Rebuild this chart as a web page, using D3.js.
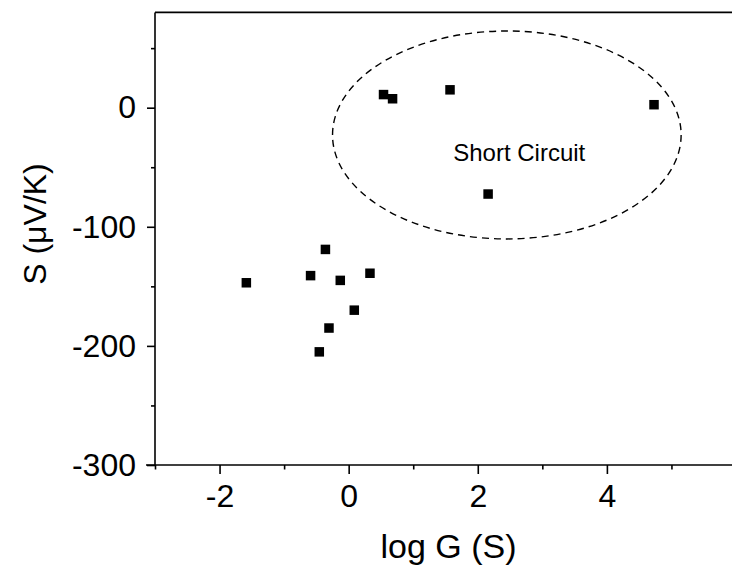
<!DOCTYPE html>
<html>
<head>
<meta charset="utf-8">
<script src="https://cdn.jsdelivr.net/npm/d3@7"></script>
<style>
  html, body { margin: 0; padding: 0; background: #fff; }
  svg { display: block; }
  text { font-family: "Liberation Sans", Arial, Helvetica, sans-serif; fill: #000; }
</style>
</head>
<body>
<svg id="chart" width="732" height="569"></svg>
<script>
// Thermopower S versus log conductance
const logG = [0.54, 0.68, 1.57, 4.73, 2.16, -0.36, -0.59, -1.585, -0.13, 0.33, 0.087, -0.305, -0.455];
const seebeck = [11, 7.5, 15, 2.5, -72.5, -119, -141, -147, -145, -139, -170, -185, -205];

const xMajorTicks = [-2, 0, 2, 4];
const xMinorTicks = [-3, -1, 1, 3, 5];
const yMajorTicks = [-300, -200, -100, 0];
const yMinorTicks = [-250, -150, -50, 50];

// Ellipse enclosing the short-circuit junctions (data units)
const shortCircuit = { cx: 2.45, cy: -22.9, rx: 2.70, ry: 87.3, label: "Short Circuit", lx: 1.62, ly: -44.5 };

const svg = d3.select("#chart");
const plotLeft = 155, plotRight = 736, plotTop = 12.4, plotBottom = 465;

const x = d3.scaleLinear().domain([-3, 6]).range([plotLeft, plotRight]);
const y = d3.scaleLinear().domain([-300, 80]).range([plotBottom, plotTop]);

const fmt = d => String(d);

// frame: top edge and far right edge
svg.append("path")
  .attr("d", `M${plotLeft},${plotTop}H${plotRight}V${plotBottom}`)
  .attr("fill", "none").attr("stroke", "#000").attr("stroke-width", 1.6);

// x axis
const gx = svg.append("g").attr("transform", `translate(0,${plotBottom})`);
gx.call(d3.axisBottom(x).tickValues(xMajorTicks).tickSize(9).tickPadding(10).tickFormat(fmt));
gx.append("g").attr("class", "minor")
  .call(d3.axisBottom(x).tickValues(xMinorTicks).tickSize(4.5).tickFormat(""))
  .select(".domain").remove();

// y axis
const gy = svg.append("g").attr("transform", `translate(${plotLeft},0)`);
gy.call(d3.axisLeft(y).tickValues(yMajorTicks).tickSize(8).tickPadding(11).tickFormat(fmt));
gy.append("g").attr("class", "minor")
  .call(d3.axisLeft(y).tickValues(yMinorTicks).tickSize(4).tickFormat(""))
  .select(".domain").remove();

gx.select(".domain").attr("d", `M${plotLeft - 9},0H${plotRight}`);
gy.select(".domain").attr("d", `M0,${plotTop}V${plotBottom}`);

svg.selectAll(".tick line, .domain").attr("stroke", "#000").attr("stroke-width", 1.6);
svg.selectAll(".tick text")
  .attr("font-family", null).attr("font-size", null)
  .style("font-size", "32px").attr("fill", "#000");

// axis titles
svg.append("text")
  .attr("x", 448.5).attr("y", 558)
  .attr("text-anchor", "middle").style("font-size", "34px")
  .text("log G (S)");

svg.append("text")
  .attr("transform", "translate(46,224) rotate(-90)")
  .attr("text-anchor", "middle").style("font-size", "32px")
  .text("S (\u03bcV/K)");

// dashed ellipse + annotation
svg.append("ellipse")
  .attr("cx", x(shortCircuit.cx)).attr("cy", y(shortCircuit.cy))
  .attr("rx", x(shortCircuit.cx + shortCircuit.rx) - x(shortCircuit.cx))
  .attr("ry", y(shortCircuit.cy - shortCircuit.ry) - y(shortCircuit.cy))
  .attr("fill", "none").attr("stroke", "#000").attr("stroke-width", 1.4)
  .attr("stroke-dasharray", "7,5");

svg.append("text")
  .attr("x", x(shortCircuit.lx)).attr("y", y(shortCircuit.ly))
  .style("font-size", "24px")
  .text(shortCircuit.label);

// data points: filled squares
const size = 9.5;
svg.append("g").selectAll("rect")
  .data(logG.map((g, i) => [g, seebeck[i]]))
  .join("rect")
  .attr("x", d => x(d[0]) - size / 2)
  .attr("y", d => y(d[1]) - size / 2)
  .attr("width", size).attr("height", size)
  .attr("fill", "#000");
</script>
</body>
</html>
